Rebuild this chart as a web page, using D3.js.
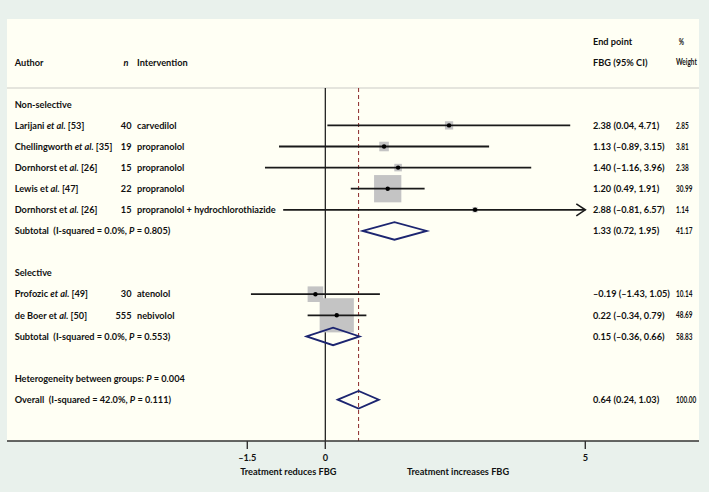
<!DOCTYPE html>
<html><head><meta charset="utf-8">
<script src="https://cdn.jsdelivr.net/npm/d3@7"></script>
<style>body{margin:0;background:#e9f1ec;} svg{display:block;} text{font-family:Lato,"Open Sans",sans-serif;font-weight:700;font-size:9.2px;fill:#111;}</style>
</head><body><svg id="c" width="709" height="492"></svg>
<script>
// ---- data ----
const authors = ["Larijani *et al.* [53]", "Chellingworth *et al.* [35]", "Dornhorst et *al.* [26]", "Lewis et *al.* [47]", "Dornhorst et *al.* [26]", "Profozic *et al.* [49]", "de Boer et *al.* [50]"];
const sampleSizes = [40, 19, 15, 22, 15, 30, 555];
const interventions = ["carvedilol", "propranolol", "propranolol", "propranolol", "propranolol + hydrochlorothiazide", "atenolol", "nebivolol"];
const estimates = [2.38, 1.13, 1.40, 1.20, 2.88, -0.19, 0.22];
const lowerCI = [0.04, -0.89, -1.16, 0.49, -0.81, -1.43, -0.34];
const upperCI = [4.71, 3.15, 3.96, 1.91, 6.57, 1.05, 0.79];
const weights = [2.85, 3.81, 2.38, 30.99, 1.14, 10.14, 48.69];
const studyRows = [1, 2, 3, 4, 5, 9, 10];

const summaryLabels = ["Subtotal  (I-squared = 0.0%, *P* = 0.805)", "Subtotal  (I-squared = 0.0%, *P* = 0.553)", "Overall  (I-squared = 42.0%, *P* = 0.111)"];
const summaryEst = [1.33, 0.15, 0.64];
const summaryLower = [0.72, -0.36, 0.24];
const summaryUpper = [1.95, 0.66, 1.03];
const summaryWeights = [41.17, 58.83, 100.00];
const summaryRows = [6, 11, 14];

const groupLabels = ["Non-selective", "Selective", "Heterogeneity between groups: *P* = 0.004"];
const groupRows = [0, 8, 13];

const tickValues = [-1.5, 0, 5];
const tickLabels = ["–1.5", "0", "5"];
const axisDomain = [-1.5, 5];
const overallEffect = 0.64;

// ---- layout ----
const svg = d3.select("#c");
const panel = {x0: 7, x1: 699, y0: 19, y1: 441};
const sepY = 88;
const rowY0 = 104.3, rowStep = 21.1;
const y = r => rowY0 + r * rowStep;
const x = d3.scaleLinear().domain(axisDomain).range([247.3, 585.3]);
const fmt = v => (v < 0 ? "–" : "") + Math.abs(v).toFixed(2);
const fmtCI = (e, l, u) => `${fmt(e)} (${fmt(l)}, ${fmt(u)})`;

svg.append("rect").attr("x", panel.x0).attr("y", panel.y0).attr("width", panel.x1 - panel.x0).attr("height", panel.y1 - panel.y0).attr("fill", "#fffff4");
svg.append("line").attr("x1", panel.x0).attr("x2", panel.x1).attr("y1", sepY).attr("y2", sepY).attr("stroke", "#dcdcd6").attr("stroke-width", 1.5);

function richText(sel, str) {
  const parts = str.split("*");
  parts.forEach((p, i) => {
    if (!p) return;
    sel.append("tspan").attr("font-style", i % 2 ? "italic" : "normal").text(p);
  });
  return sel;
}
function txt(xp, yp, str, anchor = "start", parent = svg) {
  const t = parent.append("text").attr("x", xp).attr("y", yp + 3.2).attr("text-anchor", anchor).attr("xml:space", "preserve");
  return richText(t, str);
}
// weight column is horizontally condensed in the original
const wCol = svg.append("g").attr("transform", "translate(676,0) scale(0.7,1)");

// headers
txt(14.7, 62.3, "Author");
txt(128.5, 62.3, "*n*", "end");
txt(137, 62.3, "Intervention");
txt(593, 41.7, "End point");
txt(4, 41.7, "%", "start", wCol);
txt(593, 62.3, "FBG (95% CI)");
txt(0, 62.3, "Weight", "start", wCol);

// reference lines
svg.append("line").attr("x1", x(0)).attr("x2", x(0)).attr("y1", sepY).attr("y2", panel.y1).attr("stroke", "#111").attr("stroke-width", 1.2);
svg.append("line").attr("x1", x(overallEffect)).attr("x2", x(overallEffect)).attr("y1", sepY).attr("y2", panel.y1).attr("stroke", "#8b2a2a").attr("stroke-width", 1).attr("stroke-dasharray", "4,3");

// group labels
groupLabels.forEach((g, i) => txt(14.7, y(groupRows[i]), g));

// studies
const studies = authors.map((a, i) => ({a, n: sampleSizes[i], iv: interventions[i], e: estimates[i], l: lowerCI[i], u: upperCI[i], w: weights[i], r: studyRows[i]}));
const side = w => 4.9 * Math.sqrt(w);
svg.append("g").selectAll("rect").data(studies).join("rect")
  .attr("x", d => x(d.e) - side(d.w) / 2).attr("y", d => y(d.r) - side(d.w) / 2)
  .attr("width", d => side(d.w)).attr("height", d => side(d.w)).attr("fill", "#c4c4c4");
const maxX = axisDomain[1];
studies.forEach(d => {
  const hi = Math.min(d.u, maxX);
  svg.append("line").attr("x1", x(d.l)).attr("x2", x(hi)).attr("y1", y(d.r)).attr("y2", y(d.r)).attr("stroke", "#1a1a1a").attr("stroke-width", 1.8);
  if (d.u > maxX) {
    const ax = x(maxX), ay = y(d.r);
    svg.append("path").attr("d", `M${ax - 9},${ay - 6}L${ax},${ay}L${ax - 9},${ay + 6}`).attr("fill", "none").attr("stroke", "#1a1a1a").attr("stroke-width", 1.6);
  }
  svg.append("circle").attr("cx", x(d.e)).attr("cy", y(d.r)).attr("r", 2.2).attr("fill", "#000");
  txt(14.7, y(d.r), d.a);
  txt(131.5, y(d.r), String(d.n), "end");
  txt(137, y(d.r), d.iv);
  txt(593, y(d.r), fmtCI(d.e, d.l, d.u));
  txt(0, y(d.r), d.w.toFixed(2), "start", wCol);
});

// summaries
summaryLabels.forEach((s, i) => {
  const yy = y(summaryRows[i]), h = 8.8;
  const pts = [[x(summaryLower[i]), yy], [x(summaryEst[i]), yy - h], [x(summaryUpper[i]), yy], [x(summaryEst[i]), yy + h]];
  svg.append("path").attr("d", "M" + pts.join("L") + "Z").attr("fill", "none").attr("stroke", "#1c2570").attr("stroke-width", 1.8);
  txt(14.7, yy, s);
  txt(593, yy, fmtCI(summaryEst[i], summaryLower[i], summaryUpper[i]));
  txt(0, yy, summaryWeights[i].toFixed(2), "start", wCol);
});

// axis
svg.append("rect").attr("x", 0).attr("y", panel.y1).attr("width", 709).attr("height", 492 - panel.y1).attr("fill", "#e9f1ec");
const axisG = svg.append("g").attr("transform", `translate(0,${panel.y1})`);
axisG.append("line").attr("x1", panel.x0).attr("x2", panel.x1).attr("stroke", "#333").attr("stroke-width", 1.6);
axisG.selectAll("line.tick").data(tickValues).join("line").attr("class", "tick")
  .attr("x1", d => x(d)).attr("x2", d => x(d)).attr("y1", 0).attr("y2", 8).attr("stroke", "#333").attr("stroke-width", 1.4);
axisG.selectAll("text.tl").data(tickValues).join("text").attr("class", "tl")
  .attr("x", d => x(d)).attr("y", 20).attr("text-anchor", "middle").text((d, i) => tickLabels[i]);
txt(288.3, 471.7, "Treatment reduces FBG", "middle");
txt(458, 471.7, "Treatment increases FBG", "middle");
</script></body></html>
